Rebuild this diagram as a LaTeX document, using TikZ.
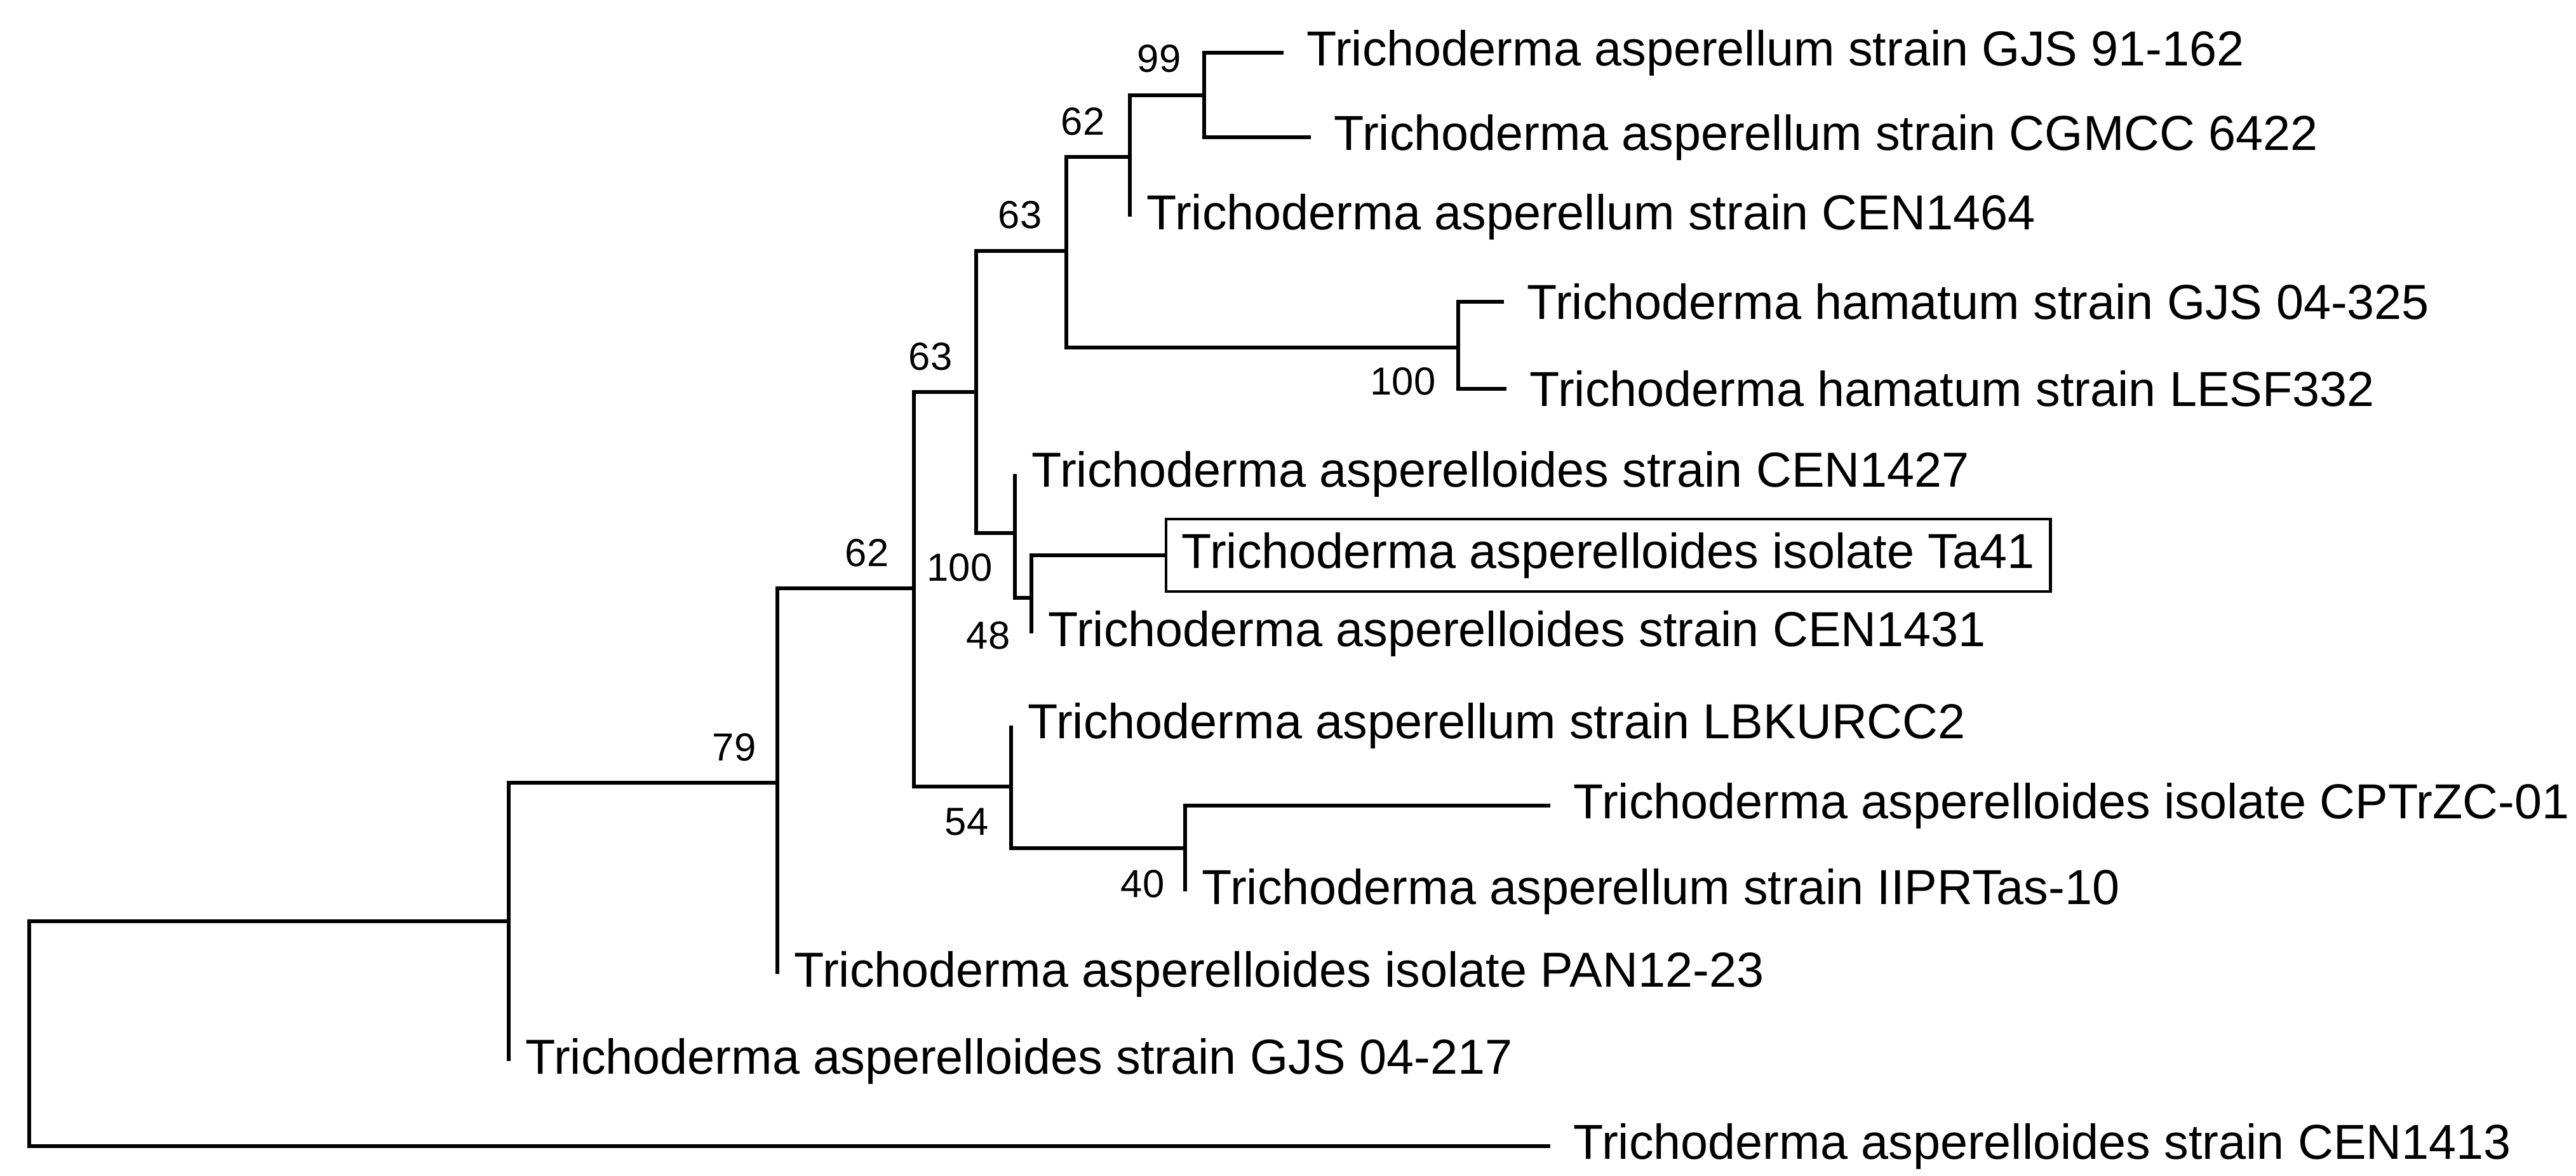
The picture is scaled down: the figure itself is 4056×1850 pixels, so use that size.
\documentclass[tikz,border=0pt]{standalone}
\usepackage{fontspec}
\setmainfont{Liberation Sans}
\begin{document}
\begin{tikzpicture}[x=0.01cm,y=-0.01cm,
  br/.style={line width=1.5pt},
  leaf/.style={anchor=west,inner sep=0pt,font=\fontsize{22}{26}\selectfont},
  bs/.style={inner sep=0pt,font=\fontsize{17.5}{20}\selectfont}]
\useasboundingbox (0,0) rectangle (4056,1850);
% leaves
\foreach \n/\x/\y in {L1/2021/83,L2/2064/216,L3/1779/341,L4/2368/475,L5/2372/612,L6/1598/746,L7/1834/874,L8/1624/997,L9/1592/1142,L10/2441/1268,L11/1866/1403,L12/1224/1533,L13/801/1670,L14/2441/1804}
  \coordinate (\n) at (\x,\y);
% internal nodes
\foreach \n/\x/\y in {n99/1896/150,n62a/1779/247,nH/2296/547,n63a/1679/395,n48/1624/941,n100/1598/839,n63b/1537/617,n40/1866/1335,n54/1592/1238,n62b/1439/926,n79/1224/1232,nA/801/1450,root/46/1627}
  \coordinate (\n) at (\x,\y);
\foreach \p/\c in {n99/L1,n99/L2,n62a/n99,n62a/L3,nH/L4,nH/L5,n63a/n62a,n63a/nH,n48/L7,n48/L8,n100/L6,n100/n48,n63b/n63a,n63b/n100,n40/L10,n40/L11,n54/L9,n54/n40,n62b/n63b,n62b/n54,n79/n62b,n79/L12,nA/n79,nA/L13,root/nA,root/L14}
  \draw[br] (\p) |- (\c);
% leaf labels
\node[leaf] (t1) at ([shift={(36,0)}]L1) {Trichoderma asperellum strain GJS 91-162};
\node[leaf] (t2) at ([shift={(36,0)}]L2) {Trichoderma asperellum strain CGMCC 6422};
\node[leaf] (t3) at ([shift={(26,0)}]L3) {Trichoderma asperellum strain CEN1464};
\node[leaf] (t4) at ([shift={(36,0)}]L4) {Trichoderma hamatum strain GJS 04-325};
\node[leaf] (t5) at ([shift={(36,0)}]L5) {Trichoderma hamatum strain LESF332};
\node[leaf] (t6) at ([shift={(26,0)}]L6) {Trichoderma asperelloides strain CEN1427};
\node[leaf,draw,line width=1.2pt,inner xsep=7pt,inner ysep=6pt] (t7) at (L7) {Trichoderma asperelloides isolate Ta41};
\node[leaf] (t8) at ([shift={(26,0)}]L8) {Trichoderma asperelloides strain CEN1431};
\node[leaf] (t9) at ([shift={(26,0)}]L9) {Trichoderma asperellum strain LBKURCC2};
\node[leaf] (t10) at ([shift={(36,0)}]L10) {Trichoderma asperelloides isolate CPTrZC-01};
\node[leaf] (t11) at ([shift={(26,0)}]L11) {Trichoderma asperellum strain IIPRTas-10};
\node[leaf] (t12) at ([shift={(26,0)}]L12) {Trichoderma asperelloides isolate PAN12-23};
\node[leaf] (t13) at ([shift={(26,0)}]L13) {Trichoderma asperelloides strain GJS 04-217};
\node[leaf] (t14) at ([shift={(36,0)}]L14) {Trichoderma asperelloides strain CEN1413};
% bootstrap values
\node[bs] (b1) at (1825,92) {99};
\node[bs] (b2) at (1705,191) {62};
\node[bs] (b3) at (1606,338) {63};
\node[bs] (b4) at (2209,600) {100};
\node[bs] (b5) at (1465,561) {63};
\node[bs] (b6) at (1511,893) {100};
\node[bs] (b7) at (1556,1000) {48};
\node[bs] (b8) at (1365,870) {62};
\node[bs] (b9) at (1156,1176) {79};
\node[bs] (b10) at (1522,1294) {54};
\node[bs] (b11) at (1799,1391) {40};
\end{tikzpicture}
\end{document}
